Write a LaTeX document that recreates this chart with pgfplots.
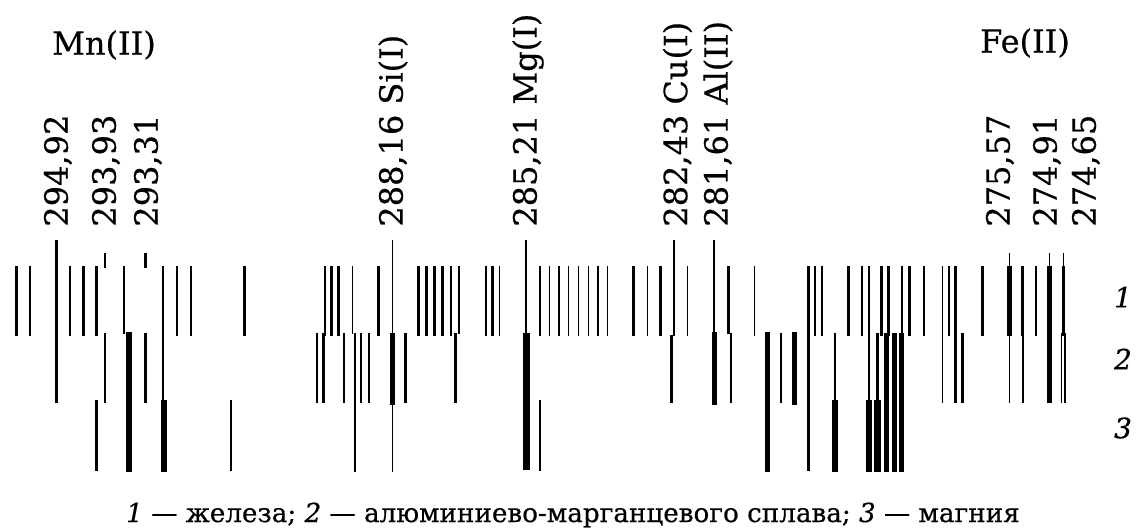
\documentclass[border=0pt]{standalone}
\usepackage{fontspec}
\setmainfont{DejaVu Serif}[FakeBold=0.5]
\usepackage{pgfplots}
\pgfplotsset{compat=1.18}
\begin{document}
\begin{tikzpicture}
\begin{axis}[width=568.5pt,height=263.5pt,scale only axis,hide axis,clip=false,
  xmin=0,xmax=1137,ymin=0,ymax=527,y dir=reverse,unbounded coords=jump]
\path (rel axis cs:0,0) rectangle (rel axis cs:1,1);
% thin lines
\addplot[black,line width=0.8pt] coordinates {
(30,266)(30,336)(30,nan)
(70,266)(70,336)(70,nan)
(177,266)(177,336)(177,nan)
(325,266)(325,336)(325,nan)
(352.3,266)(352.3,334)(352.3,nan)
(392.3,240)(392.3,472)(392.3,nan)
(499.3,266)(499.3,336)(499.3,nan)
(540,266)(540,336)(540,nan)
(540,400)(540,471)(540,nan)
(549.3,266)(549.3,336)(549.3,nan)
(559,266)(559,336)(559,nan)
(568.3,266)(568.3,336)(568.3,nan)
(578.3,266)(578.3,336)(578.3,nan)
(588.3,266)(588.3,336)(588.3,nan)
(597.7,266)(597.7,336)(597.7,nan)
(607.3,266)(607.3,336)(607.3,nan)
(647.3,266)(647.3,336)(647.3,nan)
(687.3,266)(687.3,336)(687.3,nan)
(714,240)(714,333)(714,nan)
(754.3,266)(754.3,336)(754.3,nan)
(821.7,266)(821.7,336)(821.7,nan)
(835,333)(835,400)(835,nan)
(861.7,266)(861.7,336)(861.7,nan)
(901.7,266)(901.7,336)(901.7,nan)
(942.3,266)(942.3,403)(942.3,nan)
(1009.3,253)(1009.3,266)(1009.3,nan)
(1009.3,336)(1009.3,403)(1009.3,nan)
(1022.7,336)(1022.7,403)(1022.7,nan)
(1049.3,253)(1049.3,266)(1049.3,nan)
(1063.3,253)(1063.3,266)(1063.3,nan)
(1061.6,333)(1061.6,403)(1061.6,nan)
(1065.2,333)(1065.2,403)(1065.2,nan)
(316.7,333)(316.7,403)(316.7,nan)
(344,333)(344,403)(344,nan)
};
% medium lines
\addplot[black,line width=1.4pt] coordinates {
(16.7,266)(16.7,336)(16.7,nan)
(56.7,240)(56.7,403)(56.7,nan)
(83.3,266)(83.3,336)(83.3,nan)
(96.7,266)(96.7,336)(96.7,nan)
(96.7,400)(96.7,471)(96.7,nan)
(105,253)(105,268)(105,nan)
(105,333)(105,403)(105,nan)
(124,266)(124,334)(124,nan)
(145.7,253)(145.7,268)(145.7,nan)
(145.7,333)(145.7,403)(145.7,nan)
(163,266)(163,400)(163,nan)
(191,266)(191,336)(191,nan)
(231,400)(231,471)(231,nan)
(244.3,266)(244.3,336)(244.3,nan)
(323.3,333)(323.3,403)(323.3,nan)
(331.7,266)(331.7,336)(331.7,nan)
(338.3,266)(338.3,336)(338.3,nan)
(355,333)(355,472)(355,nan)
(361,333)(361,403)(361,nan)
(369,333)(369,403)(369,nan)
(378.3,266)(378.3,336)(378.3,nan)
(405.7,333)(405.7,403)(405.7,nan)
(418.3,266)(418.3,336)(418.3,nan)
(426.7,266)(426.7,336)(426.7,nan)
(434.3,266)(434.3,336)(434.3,nan)
(442.7,266)(442.7,336)(442.7,nan)
(451,266)(451,336)(451,nan)
(459,266)(459,334)(459,nan)
(455.7,333)(455.7,403)(455.7,nan)
(486,266)(486,336)(486,nan)
(492.3,266)(492.3,336)(492.3,nan)
(526,240)(526,334)(526,nan)
(633.3,266)(633.3,336)(633.3,nan)
(660.7,266)(660.7,336)(660.7,nan)
(674,240)(674,336)(674,nan)
(671.7,335)(671.7,403)(671.7,nan)
(728.3,266)(728.3,334)(728.3,nan)
(731,333)(731,403)(731,nan)
(781,333)(781,403)(781,nan)
(808.3,266)(808.3,471)(808.3,nan)
(815,266)(815,336)(815,nan)
(848.3,266)(848.3,336)(848.3,nan)
(869,266)(869,400)(869,nan)
(877.3,333)(877.3,400)(877.3,nan)
(881.7,266)(881.7,336)(881.7,nan)
(888.3,266)(888.3,336)(888.3,nan)
(909.3,266)(909.3,336)(909.3,nan)
(924,266)(924,336)(924,nan)
(949,266)(949,336)(949,nan)
(955.7,266)(955.7,403)(955.7,nan)
(962.3,333)(962.3,403)(962.3,nan)
(982.7,266)(982.7,336)(982.7,nan)
(1022.7,266)(1022.7,336)(1022.7,nan)
(1036,266)(1036,336)(1036,nan)
(1063.3,266)(1063.3,336)(1063.3,nan)
};
% thick lines
\addplot[black,line width=2.6pt] coordinates {
(392.3,333)(392.3,405)(392.3,nan)
(714.2,332)(714.2,405)(714.2,nan)
(767.7,332)(767.7,472)(767.7,nan)
(794.3,332)(794.3,405)(794.3,nan)
(835,400)(835,472)(835,nan)
(886.3,333)(886.3,472)(886.3,nan)
(894.3,333)(894.3,472)(894.3,nan)
(901.7,333)(901.7,472)(901.7,nan)
(1009.3,266)(1009.3,336)(1009.3,nan)
(1049.3,266)(1049.3,403)(1049.3,nan)
};
% extra thick lines
\addplot[black,line width=3.4pt] coordinates {
(129,332)(129,472)(129,nan)
(164,400)(164,472)(164,nan)
(526.3,333)(526.3,470)(526.3,nan)
(869,400)(869,472)(869,nan)
(877.3,400)(877.3,472)(877.3,nan)
};
\begin{scope}[every node/.style={inner sep=0pt,font=\fontsize{16}{18}\selectfont}]
\node[rotate=90,anchor=west] at (axis cs:58,227) {294,92};
\node[rotate=90,anchor=west] at (axis cs:106,227) {293,93};
\node[rotate=90,anchor=west] at (axis cs:148,227) {293,31};
\node[rotate=90,anchor=west] at (axis cs:393,227) {288,16 Si(I)};
\node[rotate=90,anchor=west] at (axis cs:528,227) {285,21 Mg(I)};
\node[rotate=90,anchor=west] at (axis cs:677.5,227) {282,43 Cu(I)};
\node[rotate=90,anchor=west] at (axis cs:718,227) {281,61 Al(II)};
\node[rotate=90,anchor=west] at (axis cs:1000,227) {275,57};
\node[rotate=90,anchor=west] at (axis cs:1047,227) {274,91};
\node[rotate=90,anchor=west] at (axis cs:1086,227) {274,65};
\node at (axis cs:104,45) {Mn(II)};
\node at (axis cs:1025,43) {Fe(II)};
\end{scope}
\begin{scope}[every node/.style={inner sep=0pt,font=\fontsize{14}{16}\selectfont\itshape}]
\node at (axis cs:1123,297) {1};
\node at (axis cs:1123,359) {2};
\node at (axis cs:1123,428) {3};
\end{scope}
\node[inner sep=0pt,anchor=base,font=\fontsize{13.1}{15}\selectfont] at (axis cs:573,522)
  {\textit{1} — железа; \textit{2} — алюминиево-марганцевого сплава; \textit{3} — магния};
\end{axis}
\end{tikzpicture}
\end{document}
